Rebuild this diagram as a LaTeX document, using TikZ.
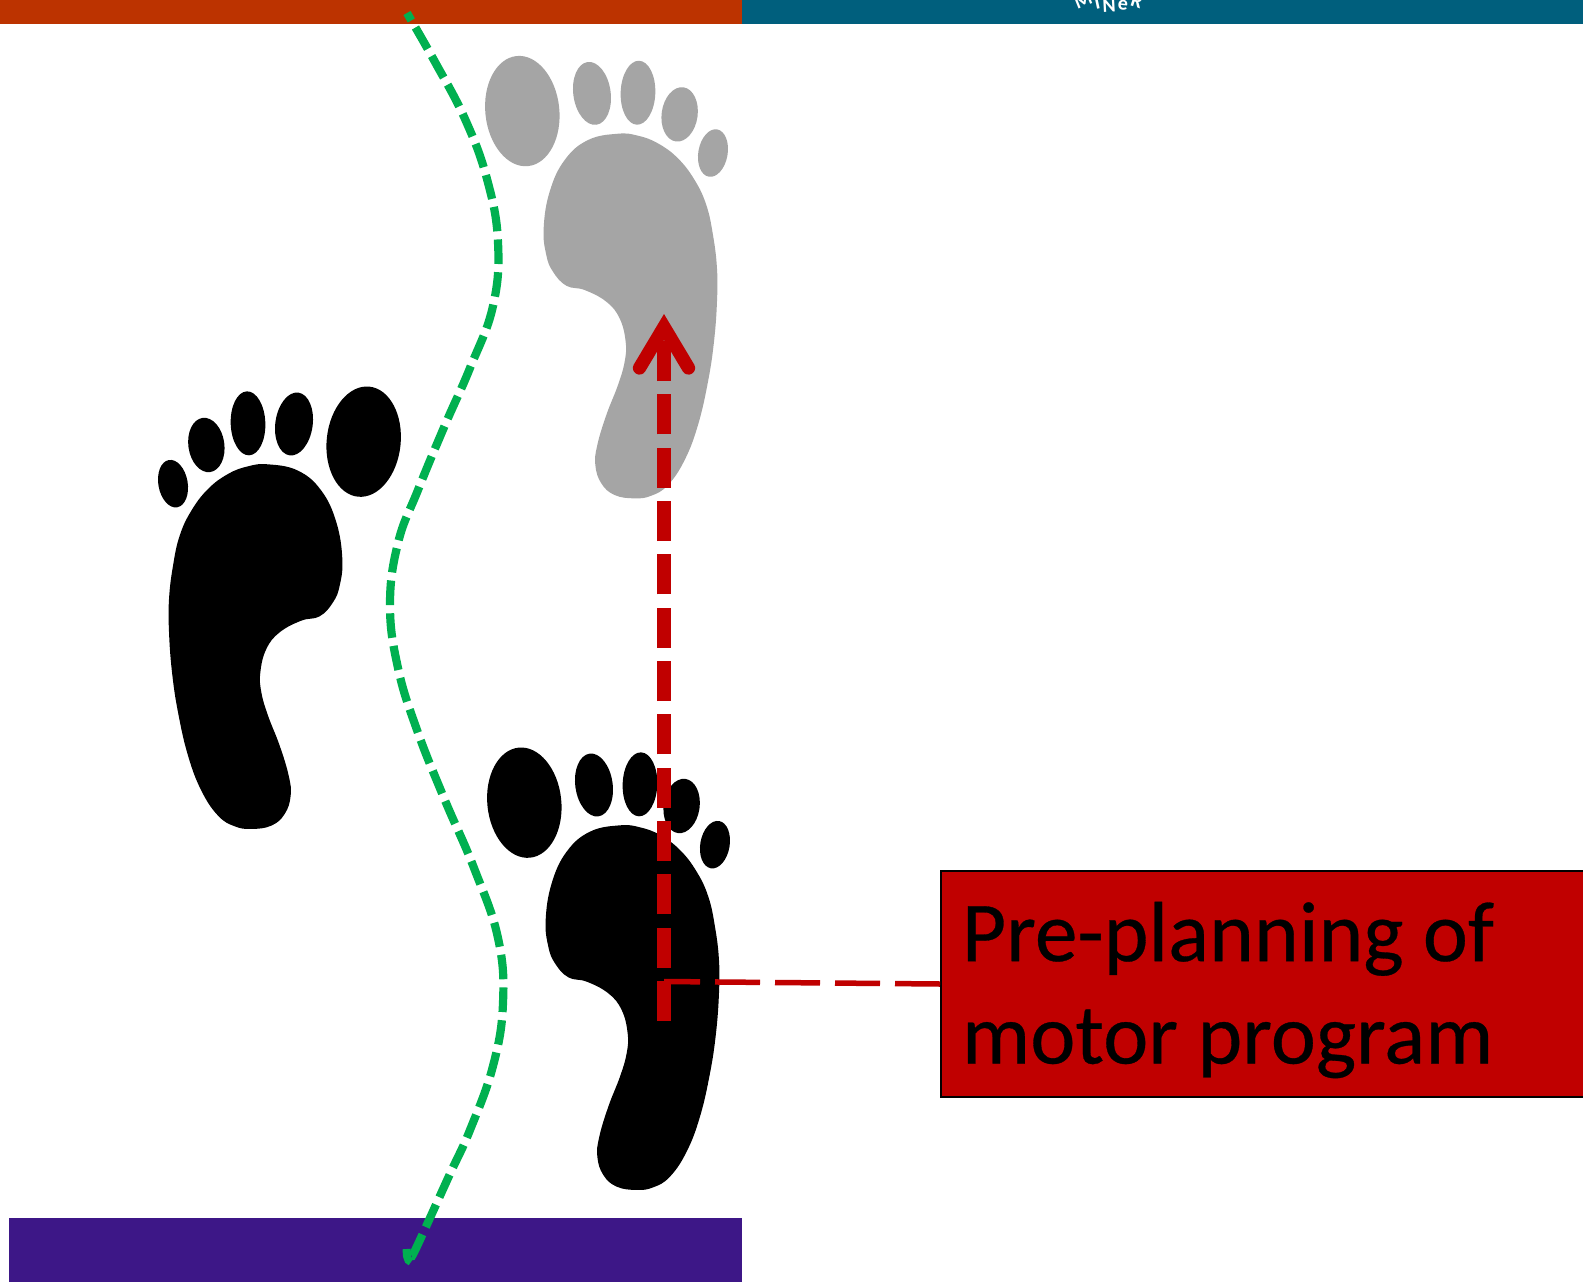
\documentclass[tikz,border=0pt]{standalone}
\usepackage{fontspec}
\setmainfont{Carlito}
\newfontfamily\labelfont[FakeBold=0.35]{Carlito}
\usetikzlibrary{arrows.meta}
\definecolor{barorange}{RGB}{188,51,0}
\definecolor{barteal}{RGB}{0,95,125}
\definecolor{barpurple}{RGB}{61,23,135}
\definecolor{footgray}{RGB}{165,165,165}
\definecolor{planred}{RGB}{192,0,0}
\definecolor{pathgreen}{RGB}{0,176,80}
\tikzset{
  bar/.style={fill=#1,draw=none},
  greenpath/.style={draw=pathgreen,line width=8.2pt,dash pattern=on 24.6pt off 8.2pt,dash phase=16pt},
  preplan/.style={draw=planred,line width=13.3pt,dash pattern=on 40pt off 13.33pt},
  leader/.style={draw=planred,line width=5.5pt,dash pattern=on 45pt off 15pt},
  labelbox/.style={draw=black,line width=2pt,fill=planred,anchor=north west,minimum height=226pt,
    text width=605pt,inner xsep=21pt,inner ysep=0pt,align=left,font=\labelfont\fontsize{85.5}{102.4}\selectfont},
  pics/foot/.style={code={
    \begin{scope}[x=0.3333pt,y=-0.3333pt]
    \fill[#1] plot[smooth cycle,tension=0.7] coordinates {(420,256)(480,262)(540,285)(600,330)(650,395)(685,470)(705,560)(717,660)(717,760)(708,880)(690,1000)(660,1130)(620,1235)(570,1310)(520,1342)(470,1350)(410,1340)(370,1305)(352,1250)(358,1190)(385,1100)(420,1010)(440,940)(443,880)(425,810)(385,760)(320,725)(265,712)(225,670)(205,620)(197,540)(215,430)(260,335)(330,275)};
    \fill[#1,rotate around={6:(133,188)}] (133,188) ellipse[x radius=111,y radius=166];
    \fill[#1,rotate around={8:(342,135)}] (342,135) ellipse[x radius=56,y radius=95];
    \fill[#1,rotate around={-2:(480,133)}] (480,133) ellipse[x radius=52,y radius=96];
    \fill[#1,rotate around={-8:(605,198)}] (605,198) ellipse[x radius=54,y radius=82];
    \fill[#1,rotate around={-10:(705,314)}] (705,314) ellipse[x radius=44,y radius=72];
    \end{scope}
  }}
}
\begin{document}
\begin{tikzpicture}[x=1pt,y=-1pt]
\clip (0,0) rectangle (1583,1282);
\path[use as bounding box] (0,0) rectangle (1583,1282);
\fill[white] (0,0) rectangle (1583,1282);
\path[bar=barorange] (0,0) rectangle (742,24);
\path[bar=barteal] (742,0) rectangle (1583,24);
\path[bar=barpurple] (9,1218) rectangle (742,1282);
\foreach \ch/\xx/\yy/\rr in {M/1083/0/22,I/1097/3/12,N/1109/5.5/3,e/1123/5.5/-6,R/1137/1/-18}{
  \node[text=white,font=\fontsize{20}{20}\selectfont\bfseries,inner sep=0pt,rotate=\rr] at (\xx,\yy) {\ch};
}
\pic at (480,740) {foot=black};
\pic at (478,48.4) {foot=footgray};
\begin{scope}[shift={(408,379)},xscale=-1]
\pic[transform shape] at (0,0) {foot=black};
\end{scope}
\coordinate (gs) at (407,13);
\coordinate (ge) at (412,1256);
\draw[greenpath] plot[smooth,tension=0.7] coordinates {(gs)(435,62)(465,119)(487,179)(498,242)(493,306)(470,368)(445,425)(418,490)(398,543)(390,605)(398,668)(417,730)(444,798)(474,868)(498,938)(503,1003)(493,1066)(470,1130)(449,1176)(419,1242)(ge)};
\draw[draw=pathgreen,line width=8pt] (406.5,1249) -- (407,1256) .. controls (407.5,1259) and (409,1262) .. (411,1262);
\coordinate (ps) at (664,1021);
\coordinate (pe) at (664,314);
\draw[preplan,-{Straight Barb[length=41pt,width=49pt,line cap=round,line join=miter,sep=0pt]}] (ps) -- (pe);
\node[labelbox] (box) at (940,870) {\spaceskip=0.226em\relax\rule{0pt}{71.4pt}Pre-planning of\\motor program};
\coordinate (le) at (664,981.5);
\draw[leader] (box.west) -- (le);
\end{tikzpicture}
\end{document}
